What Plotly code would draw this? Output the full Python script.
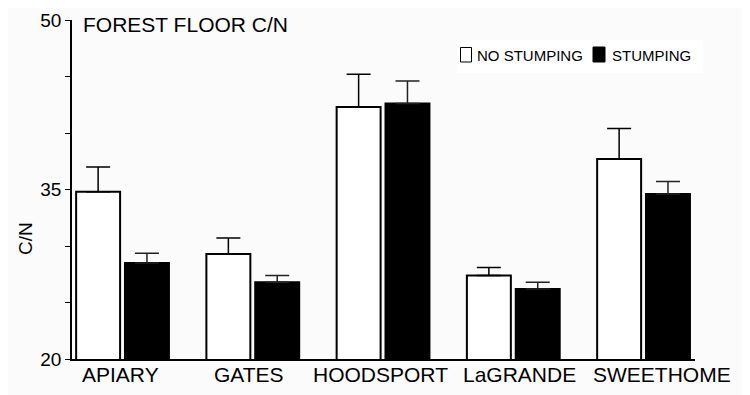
import plotly.graph_objects as go

sites = ["APIARY", "GATES", "HOODSPORT", "LaGRANDE", "SWEETHOME"]
no_stump = [34.8, 29.3, 42.3, 27.4, 37.7]
no_stump_err = [2.2, 1.4, 2.9, 0.7, 2.7]
stump = [28.5, 26.8, 42.6, 26.2, 34.6]
stump_err = [0.85, 0.6, 2.0, 0.6, 1.1]
y_ticks = [20, 25, 30, 35, 40, 45, 50]
y_ticktext = ["20", "", "", "35", "", "", "50"]
series_names = ["NO STUMPING", "STUMPING"]

# label horizontal nudges (px) to mimic the original's label placement
label_shift = [-2, -4, -3, 6, 18]

FONT = "Liberation Sans, Arial, sans-serif"
BG = "#fbfbfb"

# page has an 8px body margin; plot area should span x 72..695, y 20..359 on screen
W, H = 742, 387
ML, MR, MT, MB = 64, 55, 12, 36
PW = W - ML - MR
PH = H - MT - MB
X0, Y0 = 72, 20  # screen position of plot-area top-left


def px(x):
    return (x - X0) / PW


def py(y):
    return (Y0 + PH - y) / PH


fig = go.Figure()
fig.add_trace(go.Bar(
    x=list(range(len(sites))), y=no_stump, name=series_names[0],
    marker=dict(color="white", line=dict(color="black", width=2)),
    error_y=dict(type="data", array=no_stump_err, arrayminus=[0] * len(sites),
                 symmetric=False, color="black", thickness=1.5, width=12),
))
fig.add_trace(go.Bar(
    x=list(range(len(sites))), y=stump, name=series_names[1],
    marker=dict(color="black", line=dict(color="black", width=2)),
    error_y=dict(type="data", array=stump_err, arrayminus=[0] * len(sites),
                 symmetric=False, color="#222222", thickness=1.5, width=12),
))

annotations = [
    dict(text="FOREST FLOOR C/N", xref="paper", yref="paper",
         x=px(81), y=py(25), xanchor="left", yanchor="middle",
         showarrow=False, font=dict(family=FONT, size=21, color="black")),
    dict(text="C/N", xref="paper", yref="paper",
         x=px(25), y=py(239), xanchor="center", yanchor="middle",
         textangle=-90, showarrow=False, font=dict(family=FONT, size=19, color="black")),
    # legend texts
    dict(text=series_names[0], xref="paper", yref="paper",
         x=px(475), y=py(55), xanchor="left", yanchor="middle",
         showarrow=False, font=dict(family=FONT, size=15, color="black")),
    dict(text=series_names[1], xref="paper", yref="paper",
         x=px(610), y=py(55), xanchor="left", yanchor="middle",
         showarrow=False, font=dict(family=FONT, size=15, color="black")),
]
for i, (name, sh) in enumerate(zip(sites, label_shift)):
    annotations.append(dict(text=name, xref="x", yref="paper", x=i, y=py(361),
                            xanchor="center", yanchor="top", xshift=sh,
                            showarrow=False, font=dict(family=FONT, size=21, color="black")))

shapes = [
    dict(type="rect", xref="paper", yref="paper", x0=px(457), x1=px(703), y0=py(73), y1=py(40),
         fillcolor="white", line=dict(width=0), layer="below"),
    dict(type="rect", xref="paper", yref="paper", x0=px(460.5), x1=px(471.5), y0=py(62), y1=py(47.5),
         fillcolor="white", line=dict(color="black", width=1)),
    dict(type="rect", xref="paper", yref="paper", x0=px(593), x1=px(605), y0=py(62), y1=py(47),
         fillcolor="black", line=dict(color="black", width=1)),
]

fig.update_layout(
    width=W, height=H,
    margin=dict(l=ML, r=MR, t=MT, b=MB),
    paper_bgcolor=BG, plot_bgcolor=BG,
    barmode="group", bargap=0.25, bargroupgap=0.1,
    font=dict(family=FONT, color="black"),
    showlegend=False,
    xaxis=dict(range=[-0.388, 4.395], tickvals=list(range(len(sites))),
               showticklabels=False,
               showline=True, linecolor="black", linewidth=1.5, ticks="",
               showgrid=False, zeroline=False, automargin=False),
    yaxis=dict(range=[20, 50], tickvals=y_ticks, ticktext=y_ticktext,
               showline=True, linecolor="black", linewidth=1.5,
               ticks="outside", ticklen=5, tickcolor="black", tickwidth=1,
               showgrid=False, zeroline=False, automargin=False,
               tickfont=dict(family=FONT, size=19, color="black")),
    annotations=annotations,
    shapes=shapes,
)

fig.write_html("out.html")
